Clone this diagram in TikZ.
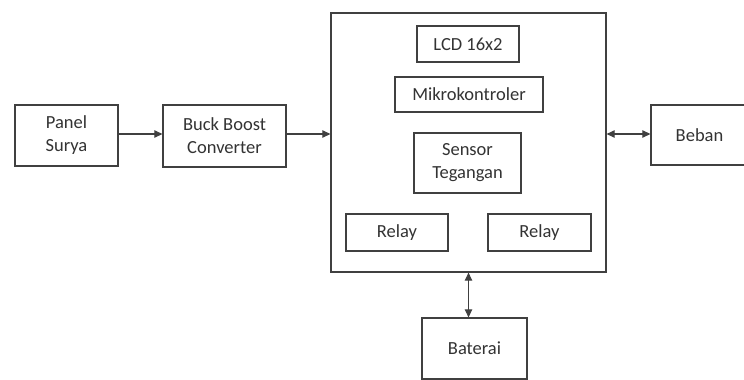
\documentclass[tikz,border=0pt]{standalone}
\usepackage{fontspec}
\setmainfont{Carlito}
\usetikzlibrary{arrows.meta,calc}
\definecolor{linegray}{HTML}{404040}
\definecolor{textgray}{HTML}{333333}
\begin{document}
\begin{tikzpicture}[x=1pt,y=-1pt,
  blk/.style={draw=linegray,line width=1.3pt,fill=white,inner sep=0pt,align=center,
    text=textgray,font=\fontsize{18.5}{23}\selectfont},
  con/.style={draw=linegray,line width=1.1pt,-{Triangle[length=8pt,width=7.5pt]}},
  bicon/.style={draw=linegray,line width=1.1pt,{Triangle[length=8pt,width=7.5pt]}-{Triangle[length=8pt,width=7.5pt]}}]
\clip (0,0) rectangle (744,380);
\fill[white] (0,0) rectangle (744,380);
\node[blk,minimum width=103pt,minimum height=61pt] (panel) at (66.5,135.5) {Panel\\Surya};
\node[blk,minimum width=123pt,minimum height=62pt] (buck) at (224.5,136) {Buck Boost\\Converter};
\node[blk,minimum width=275pt,minimum height=259pt] (big) at (468.5,142.5) {};
\node[blk,minimum width=102pt,minimum height=36pt] (lcd) at (468,44) {LCD 16x2};
\node[blk,minimum width=148pt,minimum height=35pt] (mikro) at (469,94.5) {Mikrokontroler};
\node[blk,minimum width=107pt,minimum height=60pt] (sensor) at (467.5,163) {Sensor\\Tegangan};
\node[blk,minimum width=102pt,minimum height=37pt] (relayA) at (397,232.5) {Relay};
\node[blk,minimum width=103pt,minimum height=37pt] (relayB) at (539.5,232.5) {Relay};
\node[blk,minimum width=97pt,minimum height=60pt] (beban) at (699.5,135) {Beban};
\node[blk,minimum width=105pt,minimum height=61pt] (baterai) at (474.5,348.5) {Baterai};
\draw[con] ($(panel.east)+(0,-1.5)$) coordinate (pe) -- (pe -| buck.west);
\draw[con] ($(buck.east)+(0,-2)$) coordinate (bo) -- (bo -| big.west);
\draw[bicon] ($(beban.west)+(0,-1)$) coordinate (bw) -- (bw -| big.east);
\draw[bicon] (big.south) -- (big.south |- baterai.north);
\end{tikzpicture}
\end{document}
